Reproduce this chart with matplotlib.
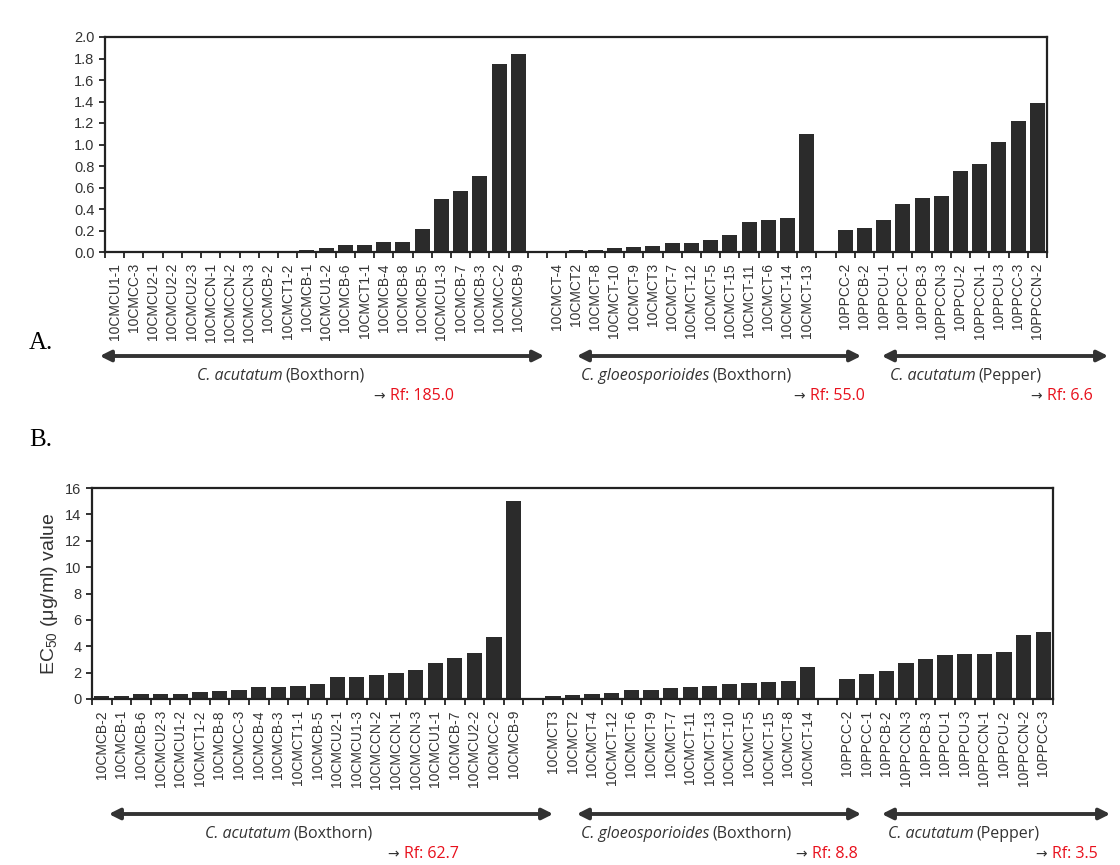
import numpy as np
import matplotlib
matplotlib.use("Agg")
import matplotlib.pyplot as plt
from matplotlib.patches import FancyArrowPatch

# ---- data: panel A ----
a_grp1_labels = ["10CMCU1-1", "10CMCC-3", "10CMCU2-1", "10CMCU2-2", "10CMCU2-3", "10CMCCN-1",
                 "10CMCCN-2", "10CMCCN-3", "10CMCB-2", "10CMCT1-2", "10CMCB-1", "10CMCU1-2",
                 "10CMCB-6", "10CMCT1-1", "10CMCB-4", "10CMCB-8", "10CMCB-5", "10CMCU1-3",
                 "10CMCB-7", "10CMCB-3", "10CMCC-2", "10CMCB-9"]
a_grp1_values = [0, 0, 0, 0, 0, 0, 0, 0, 0, 0, 0.015, 0.04, 0.062, 0.062, 0.093, 0.093,
                 0.21, 0.49, 0.565, 0.71, 1.745, 1.845]
a_grp2_labels = ["10CMCT-4", "10CMCT2", "10CMCT-8", "10CMCT-10", "10CMCT-9", "10CMCT3",
                 "10CMCT-7", "10CMCT-12", "10CMCT-5", "10CMCT-15", "10CMCT-11", "10CMCT-6",
                 "10CMCT-14", "10CMCT-13"]
a_grp2_values = [0.012, 0.02, 0.02, 0.034, 0.043, 0.056, 0.084, 0.084, 0.115, 0.16, 0.276,
                 0.30, 0.316, 1.10]
a_grp3_labels = ["10PPCC-2", "10PPCB-2", "10PPCU-1", "10PPCC-1", "10PPCB-3", "10PPCCN-3",
                 "10PPCU-2", "10PPCCN-1", "10PPCU-3", "10PPCC-3", "10PPCCN-2"]
a_grp3_values = [0.205, 0.223, 0.295, 0.443, 0.505, 0.52, 0.753, 0.82, 1.026, 1.215, 1.386]
a_rf = ["185.0", "55.0", "6.6"]

# ---- data: panel B ----
b_grp1_labels = ["10CMCB-2", "10CMCB-1", "10CMCB-6", "10CMCU2-3", "10CMCU1-2", "10CMCT1-2",
                 "10CMCB-8", "10CMCC-3", "10CMCB-4", "10CMCB-3", "10CMCT1-1", "10CMCB-5",
                 "10CMCU2-1", "10CMCU1-3", "10CMCCN-2", "10CMCCN-1", "10CMCCN-3", "10CMCU1-1",
                 "10CMCB-7", "10CMCU2-2", "10CMCC-2", "10CMCB-9"]
b_grp1_values = [0.23, 0.23, 0.4, 0.4, 0.4, 0.5, 0.6, 0.7, 0.89, 0.89, 0.99, 1.11, 1.67, 1.67,
                 1.85, 2.0, 2.2, 2.73, 3.14, 3.47, 4.73, 15.04]
b_grp2_labels = ["10CMCT3", "10CMCT2", "10CMCT-4", "10CMCT-12", "10CMCT-6", "10CMCT-9",
                 "10CMCT-7", "10CMCT-11", "10CMCT-13", "10CMCT-10", "10CMCT-5", "10CMCT-15",
                 "10CMCT-8", "10CMCT-14"]
b_grp2_values = [0.23, 0.3, 0.35, 0.43, 0.66, 0.71, 0.84, 0.89, 0.96, 1.11, 1.19, 1.29, 1.34, 2.46]
b_grp3_labels = ["10PPCC-2", "10PPCC-1", "10PPCB-2", "10PPCCN-3", "10PPCB-3", "10PPCU-1",
                 "10PPCU-3", "10PPCCN-1", "10PPCU-2", "10PPCCN-2", "10PPCC-3"]
b_grp3_values = [1.49, 1.87, 2.1, 2.76, 3.04, 3.32, 3.39, 3.39, 3.59, 4.86, 5.06]
b_rf = ["62.7", "8.8", "3.5"]

group_species = ["C. acutatum", "C. gloeosporioides", "C. acutatum"]
group_hosts = ["(Boxthorn)", "(Boxthorn)", "(Pepper)"]

W, H = 1120, 865
BAR = "#2b2b2b"
TXT = "#333333"
plt.rcParams["font.family"] = ["Liberation Sans", "DejaVu Sans"]
plt.rcParams["mathtext.default"] = "regular"

fig = plt.figure(figsize=(W / 100, H / 100), dpi=100)


def fx(x):
    return x / W


def fy(y):
    return 1 - y / H


def draw_panel(rect, groups, ymax, ystep, ylabel=None):
    ax = fig.add_axes(rect)
    labels, values = [], []
    for i, (lab, val) in enumerate(groups):
        if i > 0:
            # empty slot between the groups
            labels.append("")
            values.append(np.nan)
        labels += lab
        values += val
    x = np.arange(len(labels))
    ax.bar(x, values, width=0.78, color=BAR)
    ax.set_xlim(-0.5, len(labels) - 0.5)
    ax.set_ylim(0, ymax)
    yt = np.arange(0, ymax + ystep / 2, ystep)
    ax.set_yticks(yt)
    if ystep < 1:
        ax.set_yticklabels([f"{v:.1f}" for v in yt])
    ax.set_xticks(x)
    ax.set_xticklabels(labels, rotation=90, fontsize=10, color=TXT)
    ax.set_xticks(np.arange(-0.5, len(labels)), minor=True)
    ax.tick_params(axis="x", which="major", length=0, pad=8)
    ax.tick_params(axis="x", which="minor", length=4, width=1.3, color="#222222")
    ax.tick_params(axis="y", length=4, width=1.3, color="#222222", labelsize=10.5,
                   labelcolor=TXT)
    for s in ax.spines.values():
        s.set_linewidth(1.6)
        s.set_color("#222222")
    if ylabel:
        ax.set_ylabel(ylabel, fontsize=14, color=TXT, labelpad=4)
    return ax


draw_panel([fx(105), fy(252), fx(1047 - 105), (252 - 37) / H],
           [(a_grp1_labels, a_grp1_values), (a_grp2_labels, a_grp2_values),
            (a_grp3_labels, a_grp3_values)], 2.0, 0.2)
draw_panel([fx(92), fy(699), fx(1053 - 92), (699 - 488) / H],
           [(b_grp1_labels, b_grp1_values), (b_grp2_labels, b_grp2_values),
            (b_grp3_labels, b_grp3_values)], 16, 2,
           ylabel="EC$_{50}$ (\u03bcg/ml) value")


def group_notes(arrow_y, spans, text_x, rf_values, rf_right):
    for x0, x1 in spans:
        fig.add_artist(FancyArrowPatch((fx(x0), fy(arrow_y)), (fx(x1), fy(arrow_y)),
                                       transform=fig.transFigure, arrowstyle="<|-|>",
                                       mutation_scale=16, lw=2.8, color="#333333"))
    for tx, sp, host in zip(text_x, group_species, group_hosts):
        t = fig.text(fx(tx), fy(arrow_y + 20), sp, style="italic", fontsize=11.5,
                     family="Open Sans", color="#333333", va="center", ha="left")
        plt.annotate(host, xy=(1, 0.5), xycoords=t, xytext=(2, 0),
                     textcoords="offset points", fontsize=11.5, family="Open Sans",
                     color="#333333", va="center", ha="left")
    for rf, rx in zip(rf_values, rf_right):
        r = fig.text(fx(rx), fy(arrow_y + 40), f"Rf: {rf}", fontsize=11.5, family="Open Sans",
                     color="#e8101c", va="center", ha="right")
        plt.annotate("\u2192", xy=(0, 0.5), xycoords=r, xytext=(-4, 0),
                     textcoords="offset points", fontsize=10, family="DejaVu Sans",
                     color="#333333", va="center", ha="right")


group_notes(356, [(97, 547), (574, 864), (879, 1111)], [197, 581, 890], a_rf,
            [454, 865, 1093])
group_notes(814, [(106, 556), (574, 864), (879, 1113)], [205, 581, 888], b_rf,
            [459, 858, 1098])

fig.text(fx(29), fy(343), "A.", family="Liberation Serif", fontsize=18, va="center")
fig.text(fx(29), fy(440), "B.", family="Liberation Serif", fontsize=18, va="center")

fig.savefig("out.png", dpi=100)
